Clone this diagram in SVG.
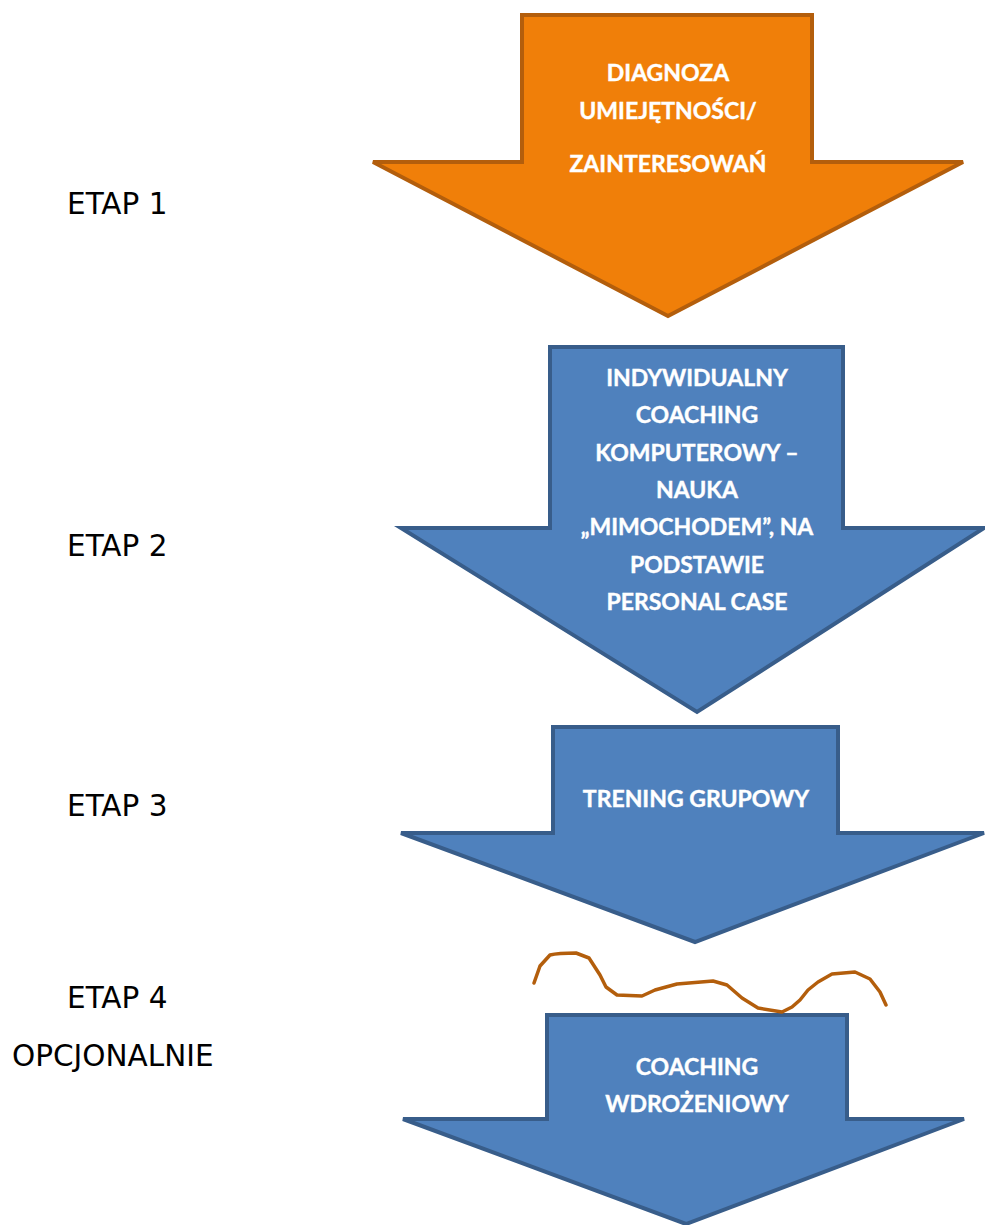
<svg xmlns="http://www.w3.org/2000/svg" width="985" height="1225" viewBox="0 0 985 1225">
  <style>
    .stage { font-family: "DejaVu Sans", Verdana, sans-serif; font-size: 29.5px; fill: #000; }
    .lbl { font-family: Lato, "Open Sans", sans-serif; font-weight: bold; font-size: 23px; fill: #fff; stroke: #fff; stroke-width: 0.4; text-anchor: middle; }
    .blue { fill: #4F81BD; stroke: #385D8A; stroke-width: 4; stroke-linejoin: miter; }
    .orange { fill: #F07F09; stroke: #B35E0C; stroke-width: 4; stroke-linejoin: miter; }
  </style>
  <rect width="985" height="1225" fill="#fff"/>

  <!-- stage captions -->
  <g id="stages">
    <text class="stage" x="67" y="214">ETAP 1</text>
    <text class="stage" x="67" y="556">ETAP 2</text>
    <text class="stage" x="67" y="816">ETAP 3</text>
    <text class="stage" x="67" y="1008">ETAP 4</text>
    <text class="stage" x="12" y="1066">OPCJONALNIE</text>
  </g>

  <!-- step 1: diagnosis -->
  <g id="step1">
    <polygon class="orange" points="522,15 812,15 812,162 963,162 668,316 373,162 522,162"/>
    <text class="lbl" x="668" y="81">DIAGNOZA</text>
    <text class="lbl" x="668" y="119">UMIEJĘTNOŚCI/</text>
    <text class="lbl" x="668" y="172">ZAINTERESOWAŃ</text>
  </g>

  <!-- step 2: individual coaching -->
  <g id="step2">
    <polygon class="blue" points="550,347 843,347 843,528 984,528 697,712 401,528 550,528"/>
    <text class="lbl" x="697" y="386">INDYWIDUALNY</text>
    <text class="lbl" x="697" y="423">COACHING</text>
    <text class="lbl" x="697" y="461">KOMPUTEROWY –</text>
    <text class="lbl" x="697" y="498">NAUKA</text>
    <text class="lbl" x="697" y="535">„MIMOCHODEM”, NA</text>
    <text class="lbl" x="697" y="573">PODSTAWIE</text>
    <text class="lbl" x="697" y="610">PERSONAL CASE</text>
  </g>

  <!-- step 3: group training -->
  <g id="step3">
    <polygon class="blue" points="553,727 838,727 838,833 984,833 695,942 401,833 553,833"/>
    <text class="lbl" x="696" y="807">TRENING GRUPOWY</text>
  </g>

  <!-- step 4: implementation coaching -->
  <g id="step4">
    <polygon class="blue" points="547,1015 847,1015 847,1119 964,1119 686,1224 403,1119 547,1119"/>
    <text class="lbl" x="697" y="1075">COACHING</text>
    <text class="lbl" x="697" y="1112">WDROŻENIOWY</text>
  </g>

  <!-- hand-drawn line -->
  <g id="connectors">
    <path d="M534,983 L540,966 L550,955 Q558,953 576,953 L589,958 L600,975 L606,987 L617,995 L642,996 L655,990 L677,984 L713,981 L727,985 L742,998 L758,1008 L782,1012 L792,1007 L800,1000 L808,990 L818,982 L832,974 L855,972 L870,979 L880,992 L886,1005" fill="none" stroke="#B35E0C" stroke-width="3.5" stroke-linejoin="round" stroke-linecap="round"/>
  </g>
</svg>
